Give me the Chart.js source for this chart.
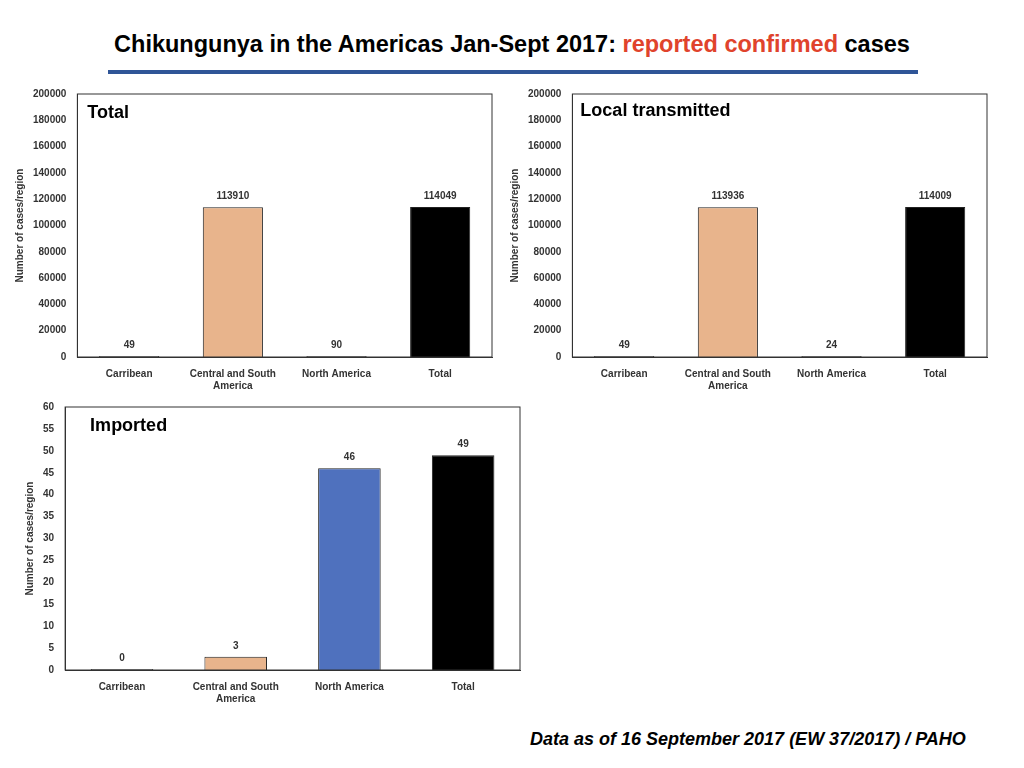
<!DOCTYPE html>
<html><head><meta charset="utf-8">
<script src="https://cdn.jsdelivr.net/npm/chart.js@4"></script>
<style>
body{margin:0;width:1024px;height:768px;background:#fff;position:relative;font-family:"Liberation Sans",Arial,sans-serif;overflow:hidden}
h1{position:absolute;left:0;width:1024px;top:31px;margin:0;text-align:center;font-size:23.5px;font-weight:bold;color:#000}
h1 span{color:#e0432c}
.rule{position:absolute;left:108px;width:810px;top:70px;height:4px;background:#2f5597}
.box{position:absolute}
.foot{position:absolute;left:530px;top:729px;font-size:18px;font-weight:bold;font-style:italic}
</style></head><body>
<h1>Chikungunya in the Americas Jan-Sept 2017: <span>reported confirmed</span> cases</h1>
<div class="rule"></div>
<div class="box" style="left:10px;top:85px;width:490px;height:310px"><canvas id="c1"></canvas></div>
<div class="box" style="left:505px;top:85px;width:490px;height:310px"><canvas id="c2"></canvas></div>
<div class="box" style="left:20px;top:398px;width:508px;height:310px"><canvas id="c3"></canvas></div>
<div class="foot">Data as of 16 September 2017 (EW 37/2017) / PAHO</div>
<script>
var categories = [['Carribean'], ['Central and South', 'America'], ['North America'], ['Total']];
var totalValues = [49, 113910, 90, 114049];
var localValues = [49, 113936, 24, 114009];
var importedValues = [0, 3, 46, 49];
var bigColors = ['#8c8c8c', '#e8b48c', '#8c8c8c', '#000000'];
var importedColors = ['#8c8c8c', '#e8b48c', '#4f71be', '#000000'];

var labelPlugin = {
	id: 'labels',
	afterDatasetsDraw: function (chart, args, opts) {
		var ctx = chart.ctx, a = chart.chartArea;
		ctx.save();
		ctx.strokeStyle = '#333';
		ctx.lineWidth = 1;
		ctx.strokeRect(a.left, a.top, a.right - a.left, a.bottom - a.top);
		ctx.fillStyle = '#333';
		ctx.font = 'bold 10px "Liberation Sans", Arial';
		ctx.textAlign = 'center';
		var meta = chart.getDatasetMeta(0);
		meta.data.forEach(function (bar, i) {
			ctx.fillText(chart.data.datasets[0].data[i], bar.x, Math.min(bar.y, a.bottom - 1) - 8);
		});
		ctx.fillStyle = '#000';
		ctx.font = 'bold 18px "Liberation Sans", Arial';
		ctx.textAlign = 'left';
		ctx.textBaseline = 'top';
		ctx.fillText(opts.text, a.left + opts.dx, a.top + opts.dy);
		ctx.restore();
	}
};

function makeChart(id, values, colors, title, max, step, dx, dy, barPct) {
	return new Chart(document.getElementById(id), {
		type: 'bar',
		data: {
			labels: categories,
			datasets: [{ data: values, backgroundColor: colors, borderColor: '#222', borderWidth: 1,
				barPercentage: barPct, categoryPercentage: 1, minBarLength: 1 }]
		},
		options: {
			responsive: true, maintainAspectRatio: false, animation: false,
			layout: { padding: { right: 8, top: 5 } },
			plugins: { legend: { display: false }, tooltip: { enabled: false },
				labels: { text: title, dx: dx, dy: dy } },
			scales: {
				x: { grid: { display: false }, border: { color: '#333' },
					ticks: { color: '#333', font: { size: 10, weight: 'bold' }, maxRotation: 0 } },
				y: { min: 0, max: max, grid: { display: false }, border: { color: '#333' },
					ticks: { stepSize: step, color: '#333', font: { size: 10, weight: 'bold' },
						callback: function (v) { return String(v); } },
					title: { display: true, text: 'Number of cases/region', color: '#333',
						font: { size: 10, weight: 'bold' } } }
			}
		},
		plugins: [labelPlugin]
	});
}

makeChart('c1', totalValues, bigColors, 'Total', 200000, 20000, 10, 10, 0.58);
makeChart('c2', localValues, bigColors, 'Local transmitted', 200000, 20000, 8, 8, 0.58);
makeChart('c3', importedValues, importedColors, 'Imported', 60, 5, 25, 10, 0.55);
</script>
</body></html>
